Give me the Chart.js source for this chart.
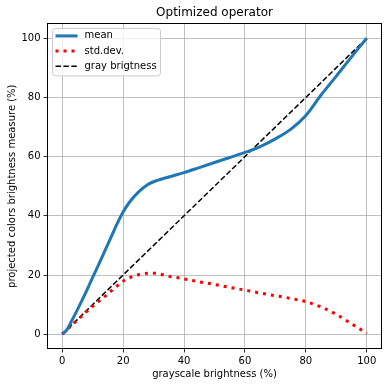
<!DOCTYPE html>
<html>
<head>
<meta charset="utf-8">
<script src="https://cdn.jsdelivr.net/npm/chart.js@4"></script>
<style>
  body { margin: 0; background: #fff; }
  #wrap { width: 389px; height: 387px; }
</style>
</head>
<body>
<div id="wrap"><canvas id="chart" width="389" height="387"></canvas></div>
<script>
// values
const meanX = [0, 1.5, 3, 5, 7, 10, 13, 16, 18, 20, 22, 25, 28, 30, 35, 40, 45, 50, 55, 60, 65, 70, 75, 80, 85, 90, 95, 100];
const meanY = [0, 1.5, 4.3, 8.3, 12.5, 19.2, 25.9, 32.7, 37.3, 41.3, 44.5, 48, 50.5, 51.5, 53.1, 54.6, 56.3, 58, 59.7, 61.4, 63.4, 66, 69.2, 73.9, 80.8, 87.2, 93.7, 100];
const stdX = [0, 5, 10, 15, 20, 25, 30, 35, 40, 45, 50, 55, 60, 65, 70, 75, 80, 85, 90, 95, 100];
const stdY = [0, 4.8, 9.4, 13.6, 17.9, 20.1, 20.6, 19.6, 18.7, 17.7, 16.8, 15.8, 14.9, 13.9, 13, 12.1, 11, 9.2, 6.7, 3.5, 0.3];
const grayX = [0, 100];
const grayY = [0, 100];
const tickValues = [0, 20, 40, 60, 80, 100];

const FONT = 'DejaVu Sans';

function pts(xs, ys) {
  return xs.map((x, i) => ({ x: x, y: ys[i] }));
}

// axes frame + matplotlib style legend inside the plot
const framePlugin = {
  id: 'frame',
  afterDatasetsDraw(chart) {
    const ctx = chart.ctx;
    const a = chart.chartArea;
    ctx.save();
    ctx.strokeStyle = '#000';
    ctx.lineWidth = 1;
    ctx.strokeRect(Math.round(a.left) + 0.5, Math.round(a.top) + 0.5,
      Math.round(a.right - a.left) - 1, Math.round(a.bottom - a.top) - 1);

    // legend box
    const bx = a.left + 5.5, by = a.top + 5, bw = 108, bh = 47.5, r = 3;
    ctx.beginPath();
    ctx.moveTo(bx + r, by);
    ctx.lineTo(bx + bw - r, by);
    ctx.arcTo(bx + bw, by, bx + bw, by + r, r);
    ctx.lineTo(bx + bw, by + bh - r);
    ctx.arcTo(bx + bw, by + bh, bx + bw - r, by + bh, r);
    ctx.lineTo(bx + r, by + bh);
    ctx.arcTo(bx, by + bh, bx, by + bh - r, r);
    ctx.lineTo(bx, by + r);
    ctx.arcTo(bx, by, bx + r, by, r);
    ctx.closePath();
    ctx.fillStyle = 'rgba(255,255,255,0.8)';
    ctx.fill();
    ctx.strokeStyle = '#cccccc';
    ctx.lineWidth = 1;
    ctx.stroke();

    const rows = [by + 7.5, by + 22.7, by + 37.9];
    chart.data.datasets.forEach((ds, i) => {
      const y = rows[i];
      ctx.beginPath();
      ctx.setLineDash(ds.borderDash || []);
      ctx.lineCap = 'butt';
      ctx.strokeStyle = ds.borderColor;
      ctx.lineWidth = ds.borderWidth;
      ctx.moveTo(bx + 3, y);
      ctx.lineTo(bx + 25, y);
      ctx.stroke();
      ctx.setLineDash([]);
      ctx.fillStyle = '#000';
      ctx.font = '10px "' + FONT + '"';
      ctx.textBaseline = 'middle';
      ctx.textAlign = 'left';
      ctx.fillText(ds.label, bx + 32, y);
    });
    ctx.restore();
  }
};

const scaleTicks = (scale) => {
  scale.ticks = tickValues.map(v => ({ value: v }));
};

new Chart(document.getElementById('chart'), {
  type: 'line',
  data: {
    datasets: [{
      label: 'mean',
      data: pts(meanX, meanY),
      borderColor: '#1f77b4',
      borderWidth: 3,
      pointRadius: 0,
      cubicInterpolationMode: 'monotone',
      fill: false
    }, {
      label: 'std.dev.',
      data: pts(stdX, stdY),
      borderColor: '#ff0000',
      borderWidth: 3,
      borderDash: [3, 5],
      pointRadius: 0,
      cubicInterpolationMode: 'monotone',
      fill: false
    }, {
      label: 'gray brigtness',
      data: pts(grayX, grayY),
      borderColor: '#000000',
      borderWidth: 1.5,
      borderDash: [5.5, 2.4],
      pointRadius: 0,
      fill: false
    }]
  },
  options: {
    responsive: false,
    animation: false,
    layout: { padding: { left: 0, right: 7, top: 0, bottom: 0 } },
    plugins: {
      legend: { display: false },
      tooltip: { enabled: false },
      title: {
        display: true,
        text: 'Optimized operator',
        fullSize: false,
        color: '#000',
        font: { family: FONT, size: 12, weight: 'normal', lineHeight: 1.2 },
        padding: { top: 6, bottom: 3 }
      }
    },
    scales: {
      x: {
        type: 'linear',
        min: -5,
        max: 105,
        afterBuildTicks: scaleTicks,
        afterFit: (s) => { s.height = 38; },
        grid: { color: '#b0b0b0', lineWidth: 0.8, tickColor: '#000', tickLength: 3.5 },
        border: { display: false },
        ticks: { color: '#000', padding: 3, maxRotation: 0, font: { family: FONT, size: 10 } },
        title: {
          display: true,
          text: 'grayscale brightness (%)',
          color: '#000',
          font: { family: FONT, size: 10 },
          padding: { top: 2, bottom: 7 }
        }
      },
      y: {
        type: 'linear',
        min: -5,
        max: 105,
        afterBuildTicks: scaleTicks,
        afterFit: (s) => { s.width = 47; },
        grid: { color: '#b0b0b0', lineWidth: 0.8, tickColor: '#000', tickLength: 3.5 },
        border: { display: false },
        ticks: { color: '#000', padding: 3, font: { family: FONT, size: 10 } },
        title: {
          display: true,
          text: 'projected colors brightness measure (%)',
          color: '#000',
          font: { family: FONT, size: 10 },
          padding: { top: 6, bottom: 0 }
        }
      }
    }
  },
  plugins: [framePlugin]
});
</script>
</body>
</html>
